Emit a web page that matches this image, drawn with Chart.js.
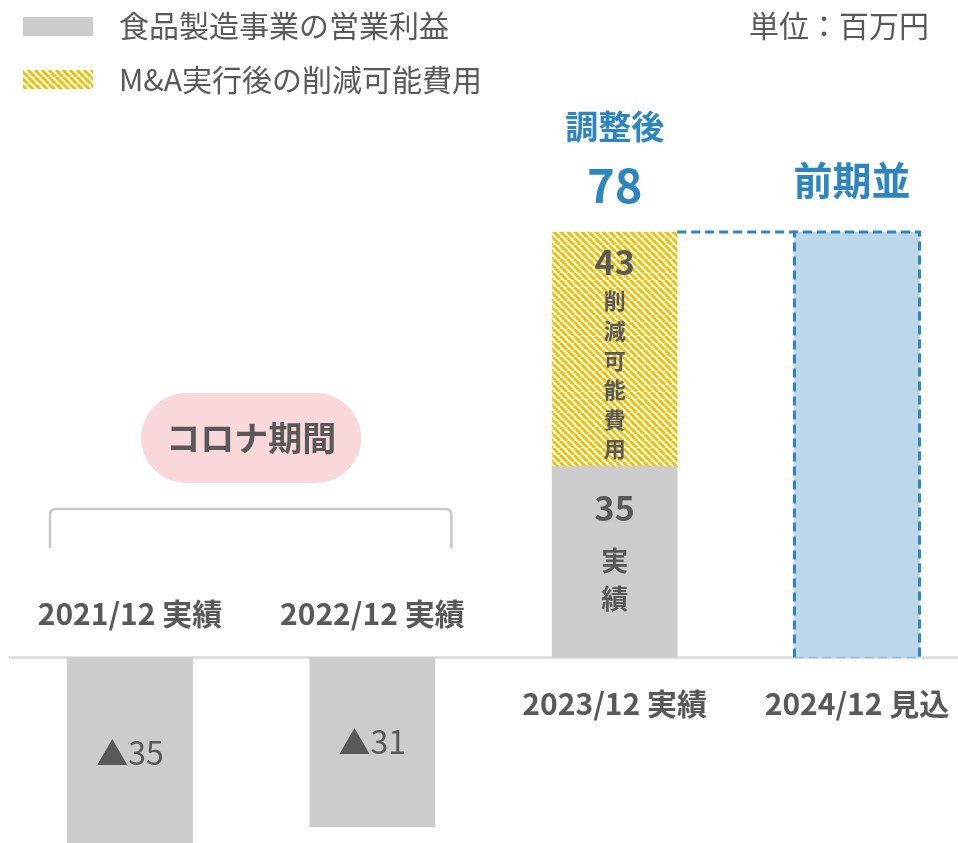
<!DOCTYPE html>
<html>
<head>
<meta charset="utf-8">
<script src="https://cdn.jsdelivr.net/npm/chart.js@4/dist/chart.umd.min.js"></script>
<style>
  html, body { margin: 0; padding: 0; background: #fff; overflow: hidden; }
  #wrap { width: 958px; height: 843px; }
</style>
</head>
<body>
<div id="wrap"><canvas id="chart" width="958" height="843"></canvas></div>
<script>
// categories
var periods = ["2021/12 実績", "2022/12 実績", "2023/12 実績", "2024/12 見込"];
// series values (百万円)
var profit = [-35, -31, 35, null];
var savings = [null, null, 43, null];
var forecast = [null, null, null, 78];
// text shown in/over bars
var profitTexts = ["▲35", "▲31", "35", null];
var seriesNames = ["食品製造事業の営業利益", "M&A実行後の削減可能費用", "前期並"];

var FONT = '"Noto Sans CJK JP", "Noto Sans", sans-serif';
var GRAY_TEXT = "#595959";
var BLUE = "#2e86c1";

// yellow hatch fill
function makeHatch() {
  var s = 7;
  var c = document.createElement("canvas");
  c.width = s; c.height = s;
  var g = c.getContext("2d");
  g.fillStyle = "#ffffff";
  g.fillRect(0, 0, s, s);
  g.strokeStyle = "#efc000";
  g.lineWidth = 3;
  for (var k = -1; k <= 1; k++) {
    g.beginPath();
    g.moveTo(k * s, 0);
    g.lineTo(k * s + s, s);
    g.stroke();
  }
  return g.createPattern(c, "repeat");
}
var hatch = makeHatch();

function text(ctx, str, x, y, size, color, weight, align) {
  ctx.font = (weight || "bold") + " " + size + "px " + FONT;
  ctx.fillStyle = color;
  ctx.textAlign = align || "center";
  ctx.textBaseline = "middle";
  ctx.fillText(str, x, y);
}

function vertical(ctx, str, x, y0, step, size, color) {
  for (var i = 0; i < str.length; i++) {
    text(ctx, str[i], x, y0 + i * step, size, color);
  }
}

var decorations = {
  id: "decorations",
  beforeDatasetsDraw: function(chart) {
    var ctx = chart.ctx;
    var ys = chart.scales.y;
    var zero = ys.getPixelForValue(0);
    ctx.save();
    // base line
    ctx.strokeStyle = "#d9d9d9";
    ctx.lineWidth = 2.5;
    ctx.beginPath();
    ctx.moveTo(9, zero);
    ctx.lineTo(chart.width, zero);
    ctx.stroke();
    ctx.restore();
  },
  afterDatasetsDraw: function(chart) {
    var ctx = chart.ctx;
    var xs = chart.scales.x, ys = chart.scales.y;
    var zero = ys.getPixelForValue(0);
    var gray = chart.getDatasetMeta(0).data;
    var yel = chart.getDatasetMeta(1).data;
    var blue = chart.getDatasetMeta(2).data;
    ctx.save();

    // legend
    ctx.fillStyle = "#cccccc";
    ctx.fillRect(23, 17, 70, 19);
    ctx.fillStyle = hatch;
    ctx.fillRect(23, 70, 70, 19);
    text(ctx, seriesNames[0], 119, 26, 30, GRAY_TEXT, "normal", "left");
    text(ctx, seriesNames[1], 119, 80, 30, GRAY_TEXT, "normal", "left");
    text(ctx, "単位：百万円", 929, 26, 30, GRAY_TEXT, "normal", "right");

    // category labels
    for (var i = 0; i < periods.length; i++) {
      var v = profit[i] != null ? profit[i] : forecast[i];
      var ly = v < 0 ? zero - 44 : zero + 46;
      text(ctx, periods[i], xs.getPixelForValue(i), ly, 30, GRAY_TEXT);
    }

    // values in negative bars
    for (var i = 0; i < 2; i++) {
      var b = gray[i];
      text(ctx, profitTexts[i], b.x, (b.y + b.base) / 2, 32, GRAY_TEXT, "normal");
    }

    // 2023 stack
    var g3 = gray[2], y3 = yel[2];
    text(ctx, profitTexts[2], g3.x, g3.y + 41, 34, GRAY_TEXT);
    vertical(ctx, "実績", g3.x, g3.y + 94, 38, 27, GRAY_TEXT);
    text(ctx, String(savings[2]), y3.x, y3.y + 30, 34, GRAY_TEXT);
    vertical(ctx, "削減可能費用", y3.x, y3.y + 69, 29.6, 22, GRAY_TEXT);
    text(ctx, "調整後", y3.x, y3.y - 106, 33, BLUE);
    text(ctx, String(profit[2] + savings[2]), y3.x, y3.y - 47, 47, BLUE);

    // 2024 forecast box: dashed outline
    var f = blue[3];
    var left = f.x - f.width / 2, right = f.x + f.width / 2;
    ctx.strokeStyle = BLUE;
    ctx.lineWidth = 3;
    ctx.setLineDash([9, 5]);
    ctx.beginPath();
    ctx.moveTo(left, f.base);
    ctx.lineTo(left, f.y);
    ctx.lineTo(right, f.y);
    ctx.lineTo(right, f.base);
    ctx.stroke();
    ctx.lineWidth = 1.5;
    ctx.strokeStyle = "#8fbde0";
    ctx.beginPath();
    ctx.moveTo(left, f.base);
    ctx.lineTo(right, f.base);
    ctx.stroke();
    // connector from 2023 top to 2024 box
    ctx.lineWidth = 3;
    ctx.strokeStyle = BLUE;
    ctx.beginPath();
    ctx.moveTo(y3.x + y3.width / 2, y3.y);
    ctx.lineTo(left, y3.y);
    ctx.stroke();
    ctx.setLineDash([]);
    text(ctx, seriesNames[2], f.x - 5, f.y - 52, 39, BLUE);

    // corona period bracket + pill
    var x0 = xs.getPixelForValue(0), x1 = xs.getPixelForValue(1);
    var bl = x0 - 80, br = x1 + 79, by = 509, r = 6;
    ctx.strokeStyle = "#c8c8c8";
    ctx.lineWidth = 2.5;
    ctx.beginPath();
    ctx.moveTo(bl, 548);
    ctx.lineTo(bl, by + r);
    ctx.quadraticCurveTo(bl, by, bl + r, by);
    ctx.lineTo(br - r, by);
    ctx.quadraticCurveTo(br, by, br, by + r);
    ctx.lineTo(br, 548);
    ctx.stroke();

    var cx = (x0 + x1) / 2, cy = 438, pw = 220, ph = 90;
    ctx.fillStyle = "#f8d8db";
    ctx.beginPath();
    ctx.moveTo(cx - pw / 2 + ph / 2, cy - ph / 2);
    ctx.lineTo(cx + pw / 2 - ph / 2, cy - ph / 2);
    ctx.arc(cx + pw / 2 - ph / 2, cy, ph / 2, -Math.PI / 2, Math.PI / 2);
    ctx.lineTo(cx - pw / 2 + ph / 2, cy + ph / 2);
    ctx.arc(cx - pw / 2 + ph / 2, cy, ph / 2, Math.PI / 2, Math.PI * 1.5);
    ctx.closePath();
    ctx.fill();
    text(ctx, "コロナ期間", cx, cy, 34, GRAY_TEXT);

    ctx.restore();
  }
};

new Chart(document.getElementById("chart"), {
  type: "bar",
  data: {
    labels: periods,
    datasets: [
      { label: seriesNames[0], data: profit, backgroundColor: "#cccccc", clip: false },
      { label: seriesNames[1], data: savings, backgroundColor: hatch, clip: false },
      { label: seriesNames[2], data: forecast, backgroundColor: "#bdd7ea", clip: false }
    ]
  },
  options: {
    responsive: false,
    animation: false,
    barThickness: 125,
    layout: { padding: { left: 130, right: 101, top: 112, bottom: 0 } },
    plugins: { legend: { display: false }, tooltip: { enabled: false } },
    scales: {
      x: { display: false, stacked: true, offset: false },
      y: { display: false, stacked: true, min: -34, max: 100 }
    }
  },
  plugins: [decorations]
});
</script>
</body>
</html>
